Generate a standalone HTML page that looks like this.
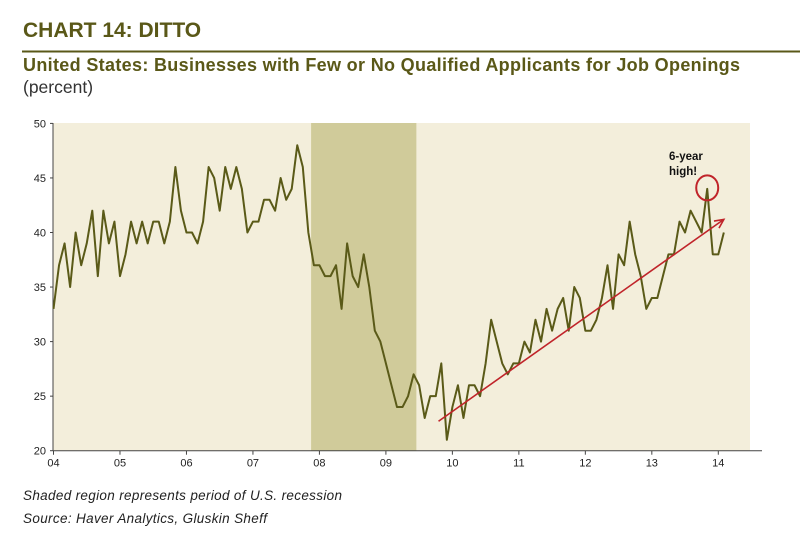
<!DOCTYPE html>
<html><head><meta charset="utf-8"><style>
body{margin:0;background:#fff;width:800px;height:533px;overflow:hidden;font-family:"Liberation Sans",sans-serif}
</style></head><body>
<svg width="800" height="533" xmlns="http://www.w3.org/2000/svg">
<text x="23" y="37" font-size="21" font-weight="bold" fill="#5a5818">CHART 14: DITTO</text>
<line x1="22" y1="51.5" x2="800" y2="51.5" stroke="#5a5818" stroke-width="2"/>
<text x="23" y="71" font-size="18" font-weight="bold" fill="#5a5818" textLength="717">United States: Businesses with Few or No Qualified Applicants for Job Openings</text>
<text x="23" y="93" font-size="17.5" fill="#333">(percent)</text>
<g id="plot"></g>
<text x="23" y="500" font-size="13.5" font-style="italic" fill="#222" textLength="319">Shaded region represents period of U.S. recession</text>
<text x="23" y="523" font-size="13.5" font-style="italic" fill="#222" textLength="244">Source: Haver Analytics, Gluskin Sheff</text>
</svg>
<script>
const yearLabels=["04","05","06","07","08","09","10","11","12","13","14"];
const yTicks=[20,25,30,35,40,45,50];
const values=[33,37,39,35,40,37,39,42,36,42,39,41,
36,38,41,39,41,39,41,41,39,41,46,42,
40,40,39,41,46,45,42,46,44,46,44,40,
41,41,43,43,42,45,43,44,48,46,40,37,
37,36,36,37,33,39,36,35,38,35,31,30,
28,26,24,24,25,27,26,23,25,25,28,21,
24,26,23,26,26,25,28,32,30,28,27,28,
28,30,29,32,30,33,31,33,34,31,35,34,
31,31,32,34,37,33,38,37,41,38,36,33,
34,34,36,38,38,41,40,42,41,40,44,38,
38,40];
const recession=[46.5,65.5];
const trendStart=[69.5,22.7];
const trendEnd=[121,41.2];
const peakIndex=118;
const NS="http://www.w3.org/2000/svg";
const X0=53.5,PX=5.54,Y0=450.7,PY=10.91,L=53,R=750,T=123;
const xs=i=>X0+i*PX, ys=v=>Y0-(v-20)*PY;
const g=document.getElementById('plot');
function mk(t,a){const e=document.createElementNS(NS,t);for(const k in a)e.setAttribute(k,a[k]);g.appendChild(e);return e;}
let e=mk('rect',{x:L,y:T,width:R-L,height:Y0-T,fill:'#f3eedb'});


e=mk('rect',{x:xs(recession[0]),y:T,width:xs(recession[1])-xs(recession[0]),height:Y0-T,fill:'#d0cb9a'});


e=mk('line',{x1:L,y1:T,x2:L,y2:Y0,stroke:'#444','stroke-width':1});


e=mk('line',{x1:L,y1:Y0,x2:R+12,y2:Y0,stroke:'#444','stroke-width':1});


yTicks.forEach(v=>{
 mk('line',{x1:L-3,y1:ys(v),x2:L,y2:ys(v),stroke:'#444'});
 e=mk('text',{x:L-7,y:ys(v)+4,'text-anchor':'end','font-size':11,fill:'#222'});
 e.textContent=v;
 
 
});
yearLabels.forEach((lab,k)=>{
 const x=xs(k*12);
 mk('line',{x1:x,y1:Y0,x2:x,y2:Y0+4,stroke:'#444'});
 e=mk('text',{x:x,y:Y0+16,'text-anchor':'middle','font-size':11,fill:'#222'});
 e.textContent=lab;
 
 
});
e=mk('polyline',{points:values.map((v,i)=>xs(i)+','+ys(v)).join(' '),fill:'none',stroke:'#5a5a18','stroke-width':2,'stroke-linejoin':'round'});


const ax1=xs(trendStart[0]),ay1=ys(trendStart[1]),ax2=xs(trendEnd[0]),ay2=ys(trendEnd[1]);
e=mk('line',{x1:ax1,y1:ay1,x2:ax2,y2:ay2,stroke:'#c0242a','stroke-width':1.6});


const ang=Math.atan2(ay2-ay1,ax2-ax1);
const hp=[[ax2-10*Math.cos(ang-0.45),ay2-10*Math.sin(ang-0.45)],[ax2,ay2],[ax2-10*Math.cos(ang+0.45),ay2-10*Math.sin(ang+0.45)]];
e=mk('polyline',{points:hp.map(p=>p.join(',')).join(' '),fill:'none',stroke:'#c0242a','stroke-width':1.6});


e=mk('ellipse',{cx:xs(peakIndex),cy:ys(values[peakIndex])-1,rx:11,ry:12.5,fill:'none',stroke:'#c0242a','stroke-width':2});


e=mk('text',{x:669,y:160,'font-size':11.5,'font-weight':'bold',fill:'#111'});
e.textContent='6-year';


e=mk('text',{x:669,y:175,'font-size':11.5,'font-weight':'bold',fill:'#111'});
e.textContent='high!';


</script>
</body></html>
